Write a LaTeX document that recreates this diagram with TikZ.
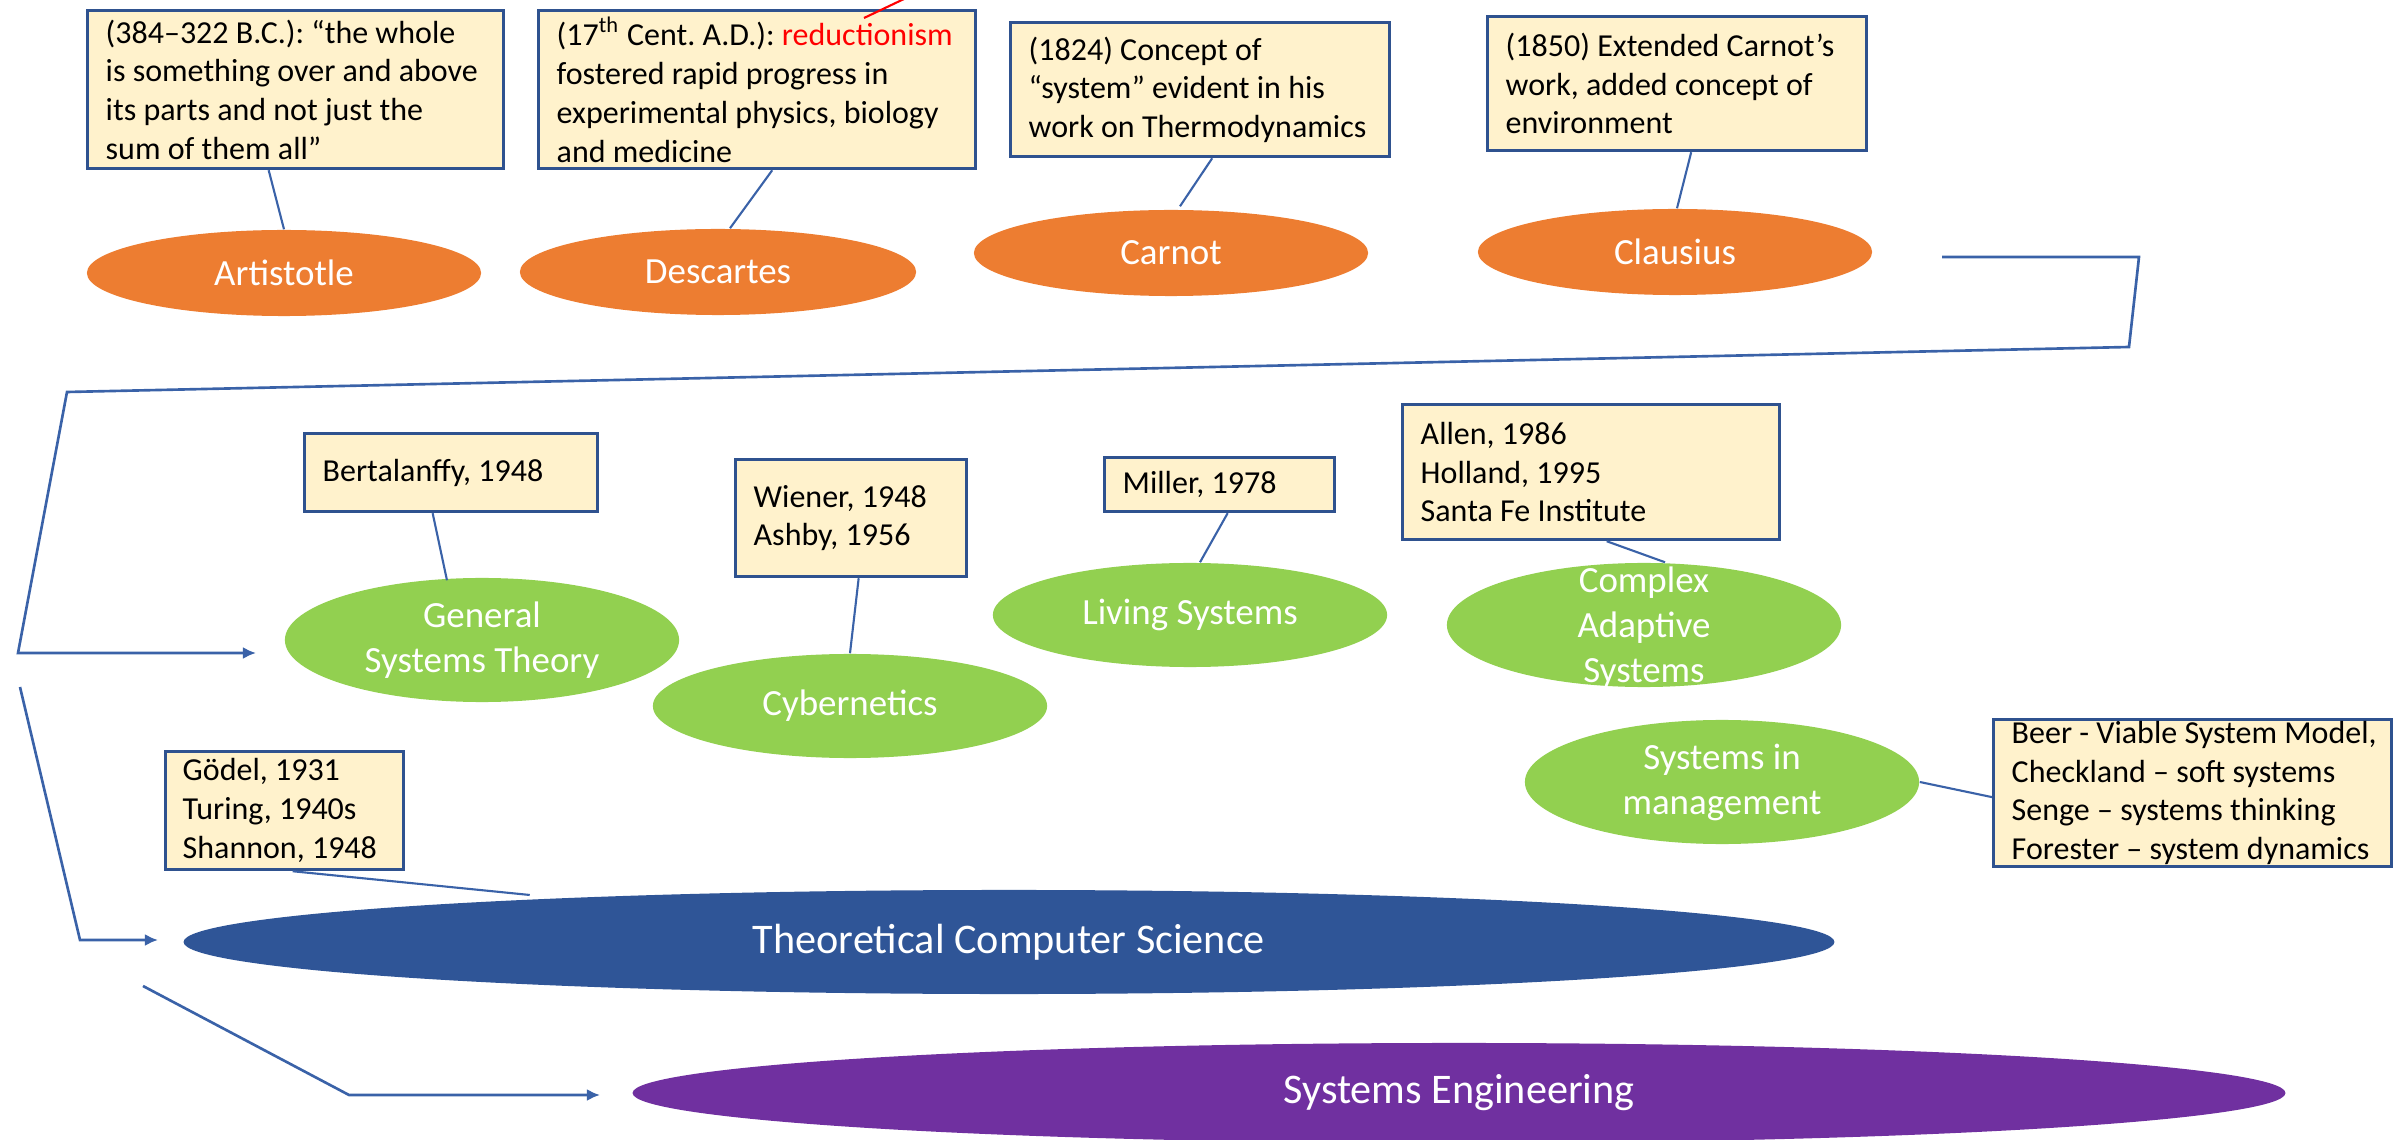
\documentclass[tikz,border=0pt]{standalone}
\usepackage{fontspec}
\setmainfont{Carlito}
\newfontfamily\boxfont{Carlito}
\usetikzlibrary{shapes.geometric,arrows.meta}
\definecolor{boxfill}{HTML}{FFF2CC}
\definecolor{boxline}{HTML}{2F528F}
\definecolor{conn}{HTML}{3A62A8}
\definecolor{orng}{HTML}{ED7D31}
\definecolor{grn}{HTML}{92D050}
\definecolor{tcsblue}{HTML}{2F5597}
\definecolor{purp}{HTML}{7030A0}
\begin{document}
\frenchspacing
\begin{tikzpicture}[x=0.01cm,y=-0.01cm,
  notebox/.style={draw=boxline, line width=0.9pt, fill=boxfill, anchor=north west,
    rectangle, inner sep=0pt},
  notetext/.style={anchor=west, inner sep=0pt, align=left,
    font=\boxfont\fontsize{9.1}{11}\selectfont},
  oval/.style={ellipse, inner sep=0pt, draw=none},
  orel/.style={oval, fill=orng, minimum width=3.94cm, minimum height=0.86cm},
  grel/.style={oval, fill=grn, minimum width=3.94cm},
  etxt/.style={text=white, align=center, inner sep=0pt, font=\fontsize{10.5}{12.8}\selectfont},
  btxt/.style={text=white, align=center, inner sep=0pt, font=\fontsize{12}{14}\selectfont},
  link/.style={draw=conn, line width=0.6pt},
  flow/.style={draw=conn, line width=0.75pt, line join=miter},
  tip/.style={-{Latex[length=0.13cm,width=0.12cm]}}
]
\useasboundingbox (0,0) rectangle (2393,1140);

% ---------- top row ----------
\node[notebox, minimum width=4.16cm, minimum height=1.58cm] (bA) at (86,9) {};
\node[notetext] (bAt) at ([xshift=0.19cm]bA.west)
  {(384–322 B.C.): “the whole\\is something over and above\\its parts and not just the\\sum of them all”};
\node[notebox, minimum width=4.37cm, minimum height=1.58cm] (bD) at (537,9) {};
\node[notetext] (bDt) at ([xshift=0.19cm]bD.west)
  {(17\textsuperscript{th} Cent. A.D.): \textcolor{red}{reductionism}\\fostered rapid progress in\\experimental physics, biology\\and medicine};
\node[notebox, minimum width=3.79cm, minimum height=1.34cm] (bC) at (1009,21) {};
\node[notetext] (bCt) at ([xshift=0.19cm]bC.west)
  {(1824) Concept of\\“system” evident in his\\work on Thermodynamics};
\node[notebox, minimum width=3.79cm, minimum height=1.34cm] (bCl) at (1486,15) {};
\node[notetext] (bClt) at ([xshift=0.19cm]bCl.west)
  {(1850) Extended Carnot’s\\work, added concept of\\environment};

\node[orel] (ari) at (284,273) {};
\node[etxt] (ariT) at (ari) {Artistotle};
\node[orel, minimum width=3.96cm] (des) at (718,272) {};
\node[etxt] (desT) at (des) {Descartes};
\node[orel] (car) at (1171,253) {};
\node[etxt] (carT) at (car) {Carnot};
\node[orel] (cla) at (1675,252) {};
\node[etxt] (claT) at (cla) {Clausius};

\draw[link] ([xshift=-0.27cm]bA.south) -- (ari.north);
\draw[link] ([xshift=0.15cm]bD.south) -- ([xshift=0.12cm]des.north);
\draw[link] ([xshift=0.12cm]bC.south) -- ([xshift=0.09cm,yshift=0.03cm]car.north);
\draw[link] ([xshift=0.14cm]bCl.south) -- ([xshift=0.02cm]cla.north);

% red line from "reductionism"
\coordinate (redA) at (864,18);
\coordinate (redB) at (965,-30);
\draw[red, line width=0.6pt] (redA) -- (redB);

% ---------- middle row ----------
\node[notebox, minimum width=2.93cm, minimum height=0.78cm] (bB) at (303,432) {};
\node[notetext] (bBt) at ([xshift=0.19cm]bB.west) {Bertalanffy, 1948};
\node[notebox, minimum width=2.31cm, minimum height=1.17cm] (bW) at (734,458) {};
\node[notetext] (bWt) at ([xshift=0.19cm]bW.west) {Wiener, 1948\\Ashby, 1956};
\node[notebox, minimum width=2.30cm, minimum height=0.54cm] (bM) at (1103,456) {};
\node[notetext] (bMt) at ([xshift=0.19cm]bM.west) {Miller, 1978};
\node[notebox, minimum width=3.77cm, minimum height=1.35cm] (bAl) at (1401,403) {};
\node[notetext] (bAlt) at ([xshift=0.19cm]bAl.west) {Allen, 1986\\Holland, 1995\\Santa Fe Institute};
\node[notebox, minimum width=3.98cm, minimum height=1.47cm] (bBe) at (1992,718) {};
\node[notetext] (bBet) at ([xshift=0.19cm]bBe.west)
  {Beer - Viable System Model,\\Checkland – soft systems\\Senge – systems thinking\\Forester – system dynamics};
\node[notebox, minimum width=2.38cm, minimum height=1.18cm] (bG) at (164,750) {};
\node[notetext] (bGt) at ([xshift=0.18cm]bG.west) {Gödel, 1931\\Turing, 1940s\\Shannon, 1948};

\node[grel, minimum height=1.24cm] (gst) at (482,640) {};
\node[etxt] (gstT) at (gst) {General\\Systems Theory};
\node[grel, minimum height=1.04cm] (cyb) at (850,706) {};
\node[etxt] (cybT) at (cyb) {Cybernetics};
\node[grel, minimum height=1.04cm] (liv) at (1190,615) {};
\node[etxt] (livT) at (liv) {Living Systems};
\node[grel, minimum height=1.24cm] (cas) at (1644,625) {};
\node[etxt] (casT) at ([yshift=-0.03cm]cas.center) {Complex\\Adaptive\\Systems};
\node[grel, minimum height=1.24cm] (sim) at (1722,782) {};
\node[etxt] (simT) at (sim) {Systems in\\management};

\draw[link] ([xshift=-0.185cm]bB.south) -- ([xshift=-0.35cm,yshift=-0.03cm]gst.north);
\draw[link] ([xshift=0.075cm]bW.south) -- (cyb.north);
\draw[link] ([xshift=0.08cm]bM.south) -- ([xshift=0.10cm]liv.north);
\draw[link] ([xshift=0.155cm]bAl.south) -- ([xshift=0.21cm]cas.north);
\draw[link] (sim.east) -- ([yshift=-0.04cm]bBe.west);

% ---------- bottom ----------
\node[oval, fill=tcsblue, minimum width=16.5cm, minimum height=1.04cm] (tcs) at (1009,942) {};
\node[btxt] (tcsT) at (tcs) {Theoretical Computer Science};
\node[oval, fill=purp, minimum width=16.52cm, minimum height=1.0cm] (se) at (1459,1093) {};
\node[btxt] (seT) at (se) {Systems Engineering};

\draw[link] ([xshift=0.08cm]bG.south) -- ([xshift=-4.79cm,yshift=0.47cm]tcs.center);

% ---------- flow connectors ----------
\coordinate (f1a) at (1942,257);
\coordinate (f1b) at (2139,257);
\coordinate (f1c) at (2129,347);
\coordinate (f1d) at (67,392);
\coordinate (f1e) at (18,653);
\coordinate (f1f) at (256,653);
\draw[flow, tip] (f1a) -- (f1b) -- (f1c) -- (f1d) -- (f1e) -- (f1f);

\coordinate (f2a) at (20,687);
\coordinate (f2b) at (80,940);
\coordinate (f2c) at (158,940);
\draw[flow, tip] (f2a) -- (f2b) -- (f2c);

\coordinate (f3a) at (143,986);
\coordinate (f3b) at (349,1095);
\coordinate (f3c) at (600,1095);
\draw[flow, tip] (f3a) -- (f3b) -- (f3c);
\end{tikzpicture}
\end{document}
